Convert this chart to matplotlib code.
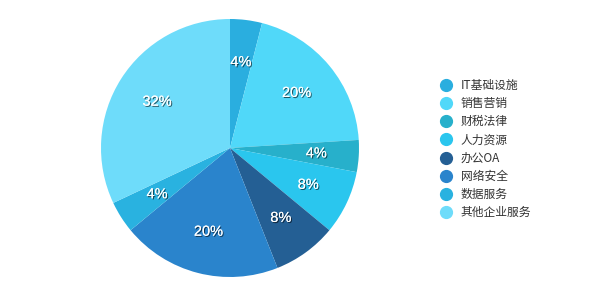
import matplotlib
matplotlib.use("Agg")
import matplotlib.pyplot as plt
import matplotlib.patheffects as pe
from matplotlib.lines import Line2D

plt.rcParams['font.family'] = ['Noto Sans CJK SC', 'DejaVu Sans']

categories = ["IT基础设施", "销售营销", "财税法律", "人力资源", "办公OA", "网络安全", "数据服务", "其他企业服务"]
values = [4, 20, 4, 8, 8, 20, 4, 32]
colors = ["#2aaedf", "#50d8f9", "#27b0cb", "#2ac6ee", "#245f94", "#2a84cc", "#29b2e0", "#6edcfa"]

W, H = 591, 304
fig = plt.figure(figsize=(W/100, H/100), dpi=100)
cx, cy, r = 230, 148, 129
ax = fig.add_axes([(cx-r)/W, (H-cy-r)/H, 2*r/W, 2*r/H])
wedges, texts, autotexts = ax.pie(values, colors=colors, startangle=90, counterclock=False,
                                  autopct='%d%%', pctdistance=0.67, radius=1.0,
                                  wedgeprops=dict(linewidth=0))
for t in autotexts:
    t.set_color('white')
    t.set_fontsize(10.5)
    t.set_family(['Liberation Sans', 'DejaVu Sans'])
    t.set_path_effects([pe.withSimplePatchShadow(offset=(0.8, -0.8), shadow_rgbFace='black', alpha=0.6), pe.Normal()])
ax.set_xlim(-1, 1); ax.set_ylim(-1, 1)
ax.set_aspect('equal')
ax.axis('off')

handles = [Line2D([], [], marker='o', linestyle='none', markersize=8.5, markerfacecolor=c, markeredgecolor=c) for c in colors]
leg = fig.legend(handles, categories, loc='upper left', bbox_to_anchor=(434/W, 1-73/H),
                 frameon=False, fontsize=8.5, labelspacing=0.44, handletextpad=0.75,
                 handlelength=1.0, borderpad=0)
for t in leg.get_texts():
    t.set_color('#333333')

fig.savefig('out.png', dpi=100)
